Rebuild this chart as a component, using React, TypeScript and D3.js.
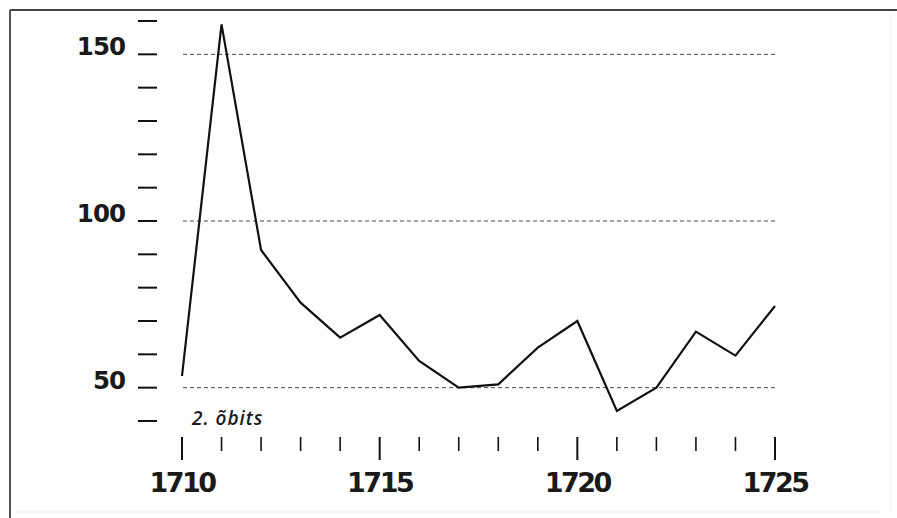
import React from "react";
import * as d3 from "d3";

const years = [1710, 1711, 1712, 1713, 1714, 1715, 1716, 1717, 1718, 1719, 1720, 1721, 1722, 1723, 1724, 1725];
const values = [53.5, 159, 91.3, 75.5, 65, 71.8, 58, 50, 51, 62, 70, 43, 50, 66.8, 59.6, 74.5];
const yTickValues = [40, 50, 60, 70, 80, 90, 100, 110, 120, 130, 140, 150, 160];
const yLabelValues = [50, 100, 150];
const gridValues = [50, 100, 150];
const xLabelValues = [1710, 1715, 1720, 1725];
const annotation = "2. õbits";

const W = 897;
const H = 518;

export default function App() {
  const x = d3.scaleLinear().domain([1710, 1725]).range([182, 775]);
  const y = d3.scaleLinear().domain([40, 160]).range([421, 21]);
  const line = d3
    .line<number>()
    .x((_, i) => x(years[i]))
    .y((d) => y(d));

  return (
    <>
      <style>{`body{margin:0;background:#fff}`}</style>
      <svg width={W} height={H} style={{ display: "block", background: "#fff" }}>
        {/* frame */}
        <line x1={10} y1={10} x2={897} y2={10} stroke="#444" strokeWidth={2} />
        <line x1={10} y1={10} x2={10} y2={518} stroke="#555" strokeWidth={2} />
        <line x1={14} y1={512} x2={880} y2={512} stroke="#ececec" strokeWidth={1} />
        <line x1={891} y1={14} x2={891} y2={512} stroke="#f0f0f0" strokeWidth={1} />

        {/* grid lines */}
        {gridValues.map((v) => (
          <line
            key={"g" + v}
            x1={183}
            x2={777}
            y1={y(v)}
            y2={y(v)}
            stroke="#333"
            strokeWidth={0.9}
            strokeDasharray="4 3"
          />
        ))}

        {/* y ticks */}
        {yTickValues.map((v) => (
          <line key={"yt" + v} x1={138} x2={157} y1={y(v)} y2={y(v)} stroke="#111" strokeWidth={2} />
        ))}
        {yLabelValues.map((v) => (
          <text
            key={"yl" + v}
            x={125}
            y={y(v) + 1}
            textAnchor="end"
            fontFamily="'DejaVu Sans', sans-serif"
            fontWeight="bold"
            fontSize={24.5}
            fill="#1a1a1a"
            letterSpacing={-1}
          >
            {v}
          </text>
        ))}

        {/* x ticks */}
        {years.map((yr) => {
          const major = (yr - 1710) % 5 === 0;
          return (
            <line
              key={"xt" + yr}
              x1={x(yr)}
              x2={x(yr)}
              y1={437}
              y2={major ? 460 : 451}
              stroke="#111"
              strokeWidth={major ? 2 : 1.6}
            />
          );
        })}
        {xLabelValues.map((v) => (
          <text
            key={"xl" + v}
            x={x(v)}
            y={492}
            textAnchor="middle"
            fontFamily="'DejaVu Sans', sans-serif"
            fontWeight="bold"
            fontSize={27}
            fill="#1a1a1a"
            letterSpacing={-2.5}
          >
            {v}
          </text>
        ))}

        {/* annotation */}
        <text
          x={192}
          y={425}
          fontFamily="'Open Sans', sans-serif"
          fontStyle="italic"
          fontWeight={600}
          fontSize={19}
          fill="#1a1a1a"
          letterSpacing={1}
        >
          {annotation}
        </text>

        {/* data line */}
        <path d={line(values) || ""} fill="none" stroke="#111" strokeWidth={2.2} strokeLinejoin="miter" />
      </svg>
    </>
  );
}
